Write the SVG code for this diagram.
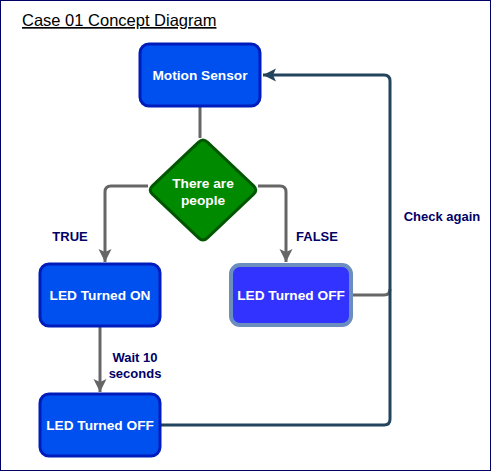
<svg xmlns="http://www.w3.org/2000/svg" width="491" height="471" viewBox="0 0 491 471">
<style>
.node{stroke-width:3}
.nt{font-family:"Liberation Sans",Arial,sans-serif;font-weight:bold;font-size:13.7px;fill:#ffffff;text-anchor:middle}
.lbl{font-family:"Liberation Sans",Arial,sans-serif;font-weight:bold;font-size:13px;fill:#000066;text-anchor:middle}
.grey{fill:none;stroke:#666666;stroke-width:3}
.dark{fill:none;stroke:#23445d;stroke-width:3}
</style>
<defs>
<marker id="ag" markerUnits="userSpaceOnUse" markerWidth="14" markerHeight="14" refX="13" refY="6.5" orient="auto">
<path d="M0,0 L13,6.5 L0,13 L3,6.5 Z" fill="#666666"/>
</marker>
<marker id="ad" markerUnits="userSpaceOnUse" markerWidth="14" markerHeight="14" refX="13" refY="6.5" orient="auto">
<path d="M0,0 L13,6.5 L0,13 L3,6.5 Z" fill="#23445d"/>
</marker>
</defs>
<rect x="0.5" y="0.5" width="490" height="470" fill="#ffffff" stroke="#000066" stroke-width="1"/>
<text x="22" y="26" font-family="'Liberation Sans',Arial,sans-serif" font-size="16.5px" fill="#000000" text-decoration="underline">Case 01 Concept Diagram</text>
<g id="connectors">
<path class="grey" d="M200,106 V138"/>
<path class="grey" d="M148,186 H111 Q105,186 105,192 V262" marker-end="url(#ag)"/>
<path class="grey" d="M258,186 H280 Q286,186 286,192 V262" marker-end="url(#ag)"/>
<path class="grey" d="M100,327 V392" marker-end="url(#ag)"/>
<path class="grey" d="M353,295 H384 Q390,295 390,289"/>
<path class="dark" d="M161,425 H384 Q390,425 390,419 V81 Q390,75 384,75 H263" marker-end="url(#ad)"/>
<text class="lbl" x="70" y="241">TRUE</text>
<text class="lbl" x="317" y="241">FALSE</text>
<text class="lbl" x="135" y="362">Wait 10</text>
<text class="lbl" x="135" y="378">seconds</text>
<text class="lbl" x="442" y="221">Check again</text>
</g>
<g id="motion-sensor">
<rect class="node" x="140" y="44" width="120" height="62" rx="9" fill="#0050ef" stroke="#001dbc"/>
<text class="nt" x="200" y="80">Motion Sensor</text>
</g>
<g id="decision">
<path class="node" d="M207.4,142.1 L253.6,185.9 Q258,190 253.6,194.1 L207.4,237.9 Q203,242 198.6,237.9 L152.4,194.1 Q148,190 152.4,185.9 L198.6,142.1 Q203,138 207.4,142.1 Z" fill="#008a00" stroke="#005700"/>
<text class="nt" x="203" y="188">There are</text>
<text class="nt" x="203" y="205">people</text>
</g>
<g id="led-on">
<rect class="node" x="40" y="264" width="120" height="62" rx="9" fill="#0050ef" stroke="#001dbc"/>
<text class="nt" x="100" y="300">LED Turned ON</text>
</g>
<g id="led-off-right">
<rect x="231" y="265" width="120" height="60" rx="9" fill="#3333ff" stroke="#6c8ebf" stroke-width="4"/>
<text class="nt" x="291" y="300">LED Turned OFF</text>
</g>
<g id="led-off-bottom">
<rect class="node" x="40" y="394" width="120" height="62" rx="9" fill="#0050ef" stroke="#001dbc"/>
<text class="nt" x="100" y="430">LED Turned OFF</text>
</g>
</svg>
